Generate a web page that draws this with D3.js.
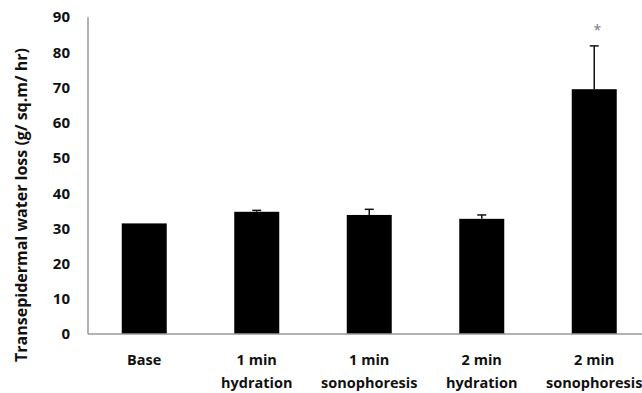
<!DOCTYPE html>
<html>
<head>
<meta charset="utf-8">
<script src="https://cdn.jsdelivr.net/npm/d3@7"></script>
<style>
  body { margin: 0; background: #fff; }
  svg { display: block; overflow: hidden; }
</style>
</head>
<body>
<div id="chart"></div>
<script>
var categories = [["Base"], ["1 min", "hydration"], ["1 min", "sonophoresis"], ["2 min", "hydration"], ["2 min", "sonophoresis"]];
var means = [31.4, 34.7, 33.8, 32.7, 69.5];
var errors = [0, 0.4, 1.6, 1.1, 12.3];
var marks = ["", "", "", "", "*"];
var yTicks = [0, 10, 20, 30, 40, 50, 60, 70, 80, 90];
var yTitle = "Transepidermal water loss (g/ sq.m/ hr)";

var width = 642, height = 393;
var font = "'Open Sans', sans-serif";

var svg = d3.select("#chart").append("svg")
  .attr("width", width)
  .attr("height", height);

var x = d3.scaleBand()
  .domain(d3.range(categories.length))
  .range([88, 650.5])
  .paddingInner(0.6)
  .paddingOuter(0.3);

var y = d3.scaleLinear().domain([0, 90]).range([334, 17]);

// bars
svg.selectAll("rect.bar")
  .data(means)
  .enter()
  .append("rect")
  .attr("class", "bar")
  .attr("x", (d, i) => x(i))
  .attr("y", d => y(d))
  .attr("width", x.bandwidth())
  .attr("height", d => y(0) - y(d))
  .attr("fill", "#000");

// error bars (upper only)
means.forEach(function(d, i) {
  if (!errors[i]) return;
  var cx = x(i) + x.bandwidth() / 2;
  svg.append("line")
    .attr("x1", cx).attr("x2", cx)
    .attr("y1", y(d)).attr("y2", y(d + errors[i]))
    .attr("stroke", "#111").attr("stroke-width", 1.5);
  svg.append("line")
    .attr("x1", cx - 4.5).attr("x2", cx + 4.5)
    .attr("y1", y(d + errors[i])).attr("y2", y(d + errors[i]))
    .attr("stroke", "#111").attr("stroke-width", 1.5);
});

// significance marks
svg.selectAll("text.mark")
  .data(marks)
  .enter()
  .append("text")
  .attr("class", "mark")
  .attr("x", (d, i) => x(i) + x.bandwidth() / 2 + 3)
  .attr("y", (d, i) => y(means[i] + errors[i]) - 11)
  .attr("text-anchor", "middle")
  .attr("font-family", font)
  .attr("font-size", "14px")
  .attr("fill", "#777")
  .text(d => d);

// axes lines
svg.append("line")
  .attr("x1", 88).attr("x2", 88)
  .attr("y1", y(90)).attr("y2", y(0))
  .attr("stroke", "#999").attr("stroke-width", 1.5);
svg.append("line")
  .attr("x1", 88).attr("x2", width)
  .attr("y1", y(0)).attr("y2", y(0))
  .attr("stroke", "#999").attr("stroke-width", 1.5);

// y tick labels
svg.selectAll("text.ytick")
  .data(yTicks)
  .enter()
  .append("text")
  .attr("class", "ytick")
  .attr("x", 70)
  .attr("y", d => y(d))
  .attr("dy", "0.36em")
  .attr("text-anchor", "end")
  .attr("font-family", font)
  .attr("font-weight", "bold")
  .attr("font-size", "15px")
  .attr("fill", "#111")
  .text(d => d);

// x labels
var xl = svg.selectAll("text.xlab")
  .data(categories)
  .enter()
  .append("text")
  .attr("class", "xlab")
  .attr("x", (d, i) => x(i) + x.bandwidth() / 2)
  .attr("y", 365)
  .attr("text-anchor", "middle")
  .attr("font-family", font)
  .attr("font-weight", "bold")
  .attr("font-size", "14.5px")
  .attr("fill", "#111");

xl.selectAll("tspan")
  .data(d => d)
  .enter()
  .append("tspan")
  .attr("x", function() { return d3.select(this.parentNode).attr("x"); })
  .attr("dy", (d, i) => i === 0 ? 0 : 23)
  .text(d => d);

// y title
svg.append("text")
  .attr("transform", "translate(27,205) rotate(-90)")
  .attr("text-anchor", "middle")
  .attr("font-family", font)
  .attr("font-weight", "bold")
  .attr("font-size", "16px")
  .attr("fill", "#111")
  .text(yTitle);
</script>
</body>
</html>
